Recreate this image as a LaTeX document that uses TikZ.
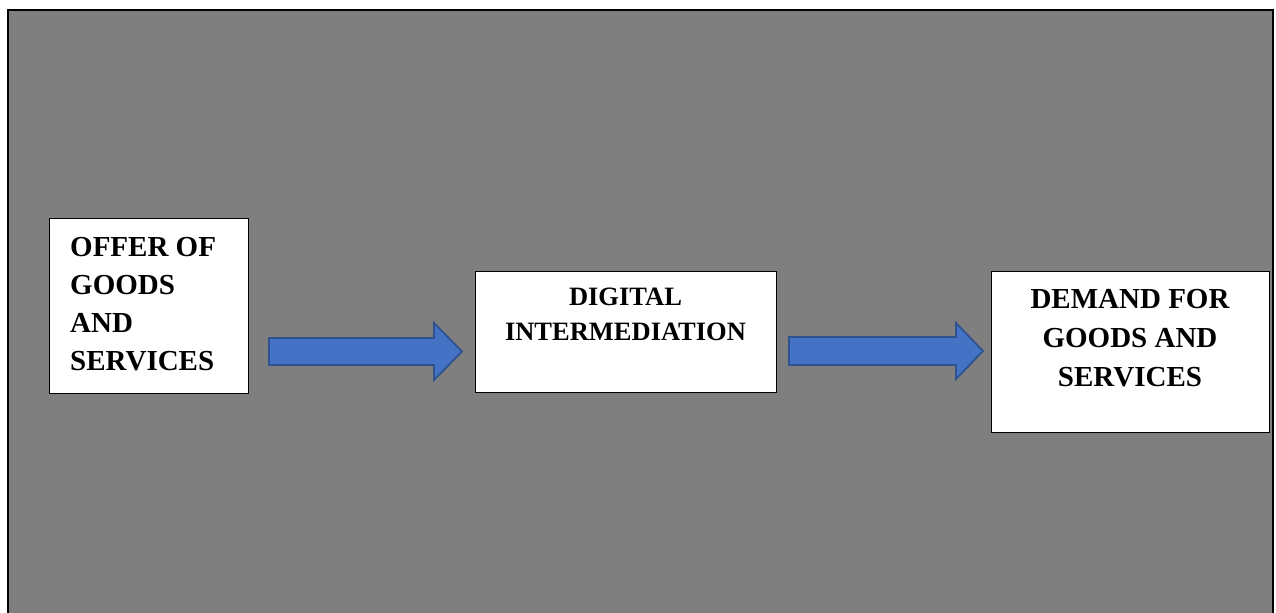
\documentclass[tikz,border=0pt]{standalone}
\usepackage{fontspec}
\setmainfont{Liberation Serif}
\definecolor{bggray}{HTML}{7F7F7F}
\definecolor{arrfill}{HTML}{4472C4}
\definecolor{arrdraw}{HTML}{2F528F}
\tikzset{
  whitebox/.style={draw=black, line width=1.2bp, fill=white, inner sep=0pt, anchor=north west},
  boxtext/.style={inner sep=0pt, font=\bfseries},
  blockarrow/.style={fill=arrfill, draw=arrdraw, line width=1.8bp, line join=miter},
}
\begin{document}
\begin{tikzpicture}[x=1bp,y=-1bp]
\useasboundingbox (0,0) rectangle (1276,613);
\fill[white] (0,0) rectangle (1276,613);
\begin{scope}
\clip (0,0) rectangle (1276,613);
\draw[line width=2.6bp, fill=bggray] (8,10) rectangle (1273,640);
\end{scope}
% boxes
\node[whitebox, minimum width=199bp, minimum height=175bp] (offer) at (49,218) {};
\node[whitebox, minimum width=301bp, minimum height=121bp] (digital) at (475,271) {};
\node[whitebox, minimum width=278bp, minimum height=161bp] (demand) at (991,271) {};
% texts
\node[boxtext, align=left, anchor=north west, font=\bfseries\fontsize{29bp}{38bp}\selectfont] (offertext) at (70,237.5) {OFFER OF\\GOODS\\AND\\SERVICES};
\node[boxtext, align=center, anchor=north, font=\bfseries\fontsize{26.5bp}{35bp}\selectfont] (digitaltext) at (625.5,288) {DIGITAL\\INTERMEDIATION};
\node[boxtext, align=center, anchor=north, font=\bfseries\fontsize{29bp}{39bp}\selectfont] (demandtext) at (1130,289) {DEMAND FOR\\GOODS AND\\SERVICES};
% arrows
\coordinate (a1) at (269,351.5);
\coordinate (a2) at (789,351);
\draw[blockarrow, shift={(a1)}] (0,-13.5) -- (165,-13.5) -- (165,-28.5) -- (193,0) -- (165,28.5) -- (165,13.5) -- (0,13.5) -- cycle;
\draw[blockarrow, shift={(a2)}] (0,-14) -- (167,-14) -- (167,-28) -- (194,0) -- (167,28) -- (167,14) -- (0,14) -- cycle;
\end{tikzpicture}
\end{document}
